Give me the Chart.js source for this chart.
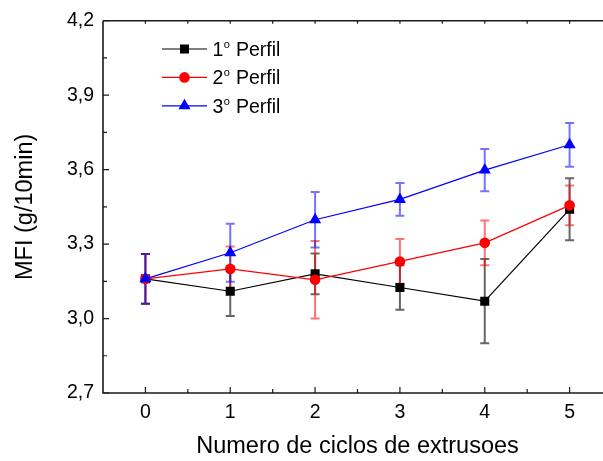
<!DOCTYPE html>
<html>
<head>
<meta charset="utf-8">
<script src="https://cdn.jsdelivr.net/npm/chart.js@4/dist/chart.umd.min.js"></script>
<style>
body { margin: 0; overflow: hidden; background: #fff; }
</style>
</head>
<body>
<canvas id="myChart_mfi" width="619" height="461"></canvas>
<script>
/* Data */
var ciclos = [0, 1, 2, 3, 4, 5];
var perfil1 = [3.16, 3.11, 3.18, 3.125, 3.07, 3.44];
var err1 = [0.10, 0.10, 0.082, 0.09, 0.17, 0.125];
var perfil2 = [3.16, 3.20, 3.156, 3.23, 3.305, 3.456];
var err2 = [0.10, 0.09, 0.156, 0.09, 0.09, 0.08];
var perfil3 = [3.16, 3.265, 3.398, 3.48, 3.598, 3.70];
var err3 = [0.10, 0.117, 0.112, 0.066, 0.085, 0.088];
var serieNames = ['1', '2', '3'];
var xTicks = [0, 1, 2, 3, 4, 5];
var yTicks = [2.7, 3.0, 3.3, 3.6, 3.9, 4.2];
/* End Data */

var fontFam = '"Liberation Sans", Arial, sans-serif';

function toPoints(vals) {
    var pts = [];
    for (let i = 0; i < ciclos.length; i++) {
        pts.push({x: ciclos[i], y: vals[i]});
    }
    return pts;
}

/* Error bars, axes box and legend drawn with the chart scales */
var originPlugin = {
    id: 'originPlugin',
    beforeDatasetsDraw: function(chart) {
        var ctx = chart.ctx;
        var xs = chart.scales.x;
        var ys = chart.scales.y;
        chart.data.datasets.forEach(function(ds) {
            ctx.save();
            ctx.strokeStyle = ds.errColor;
            ctx.lineWidth = 2;
            for (let i = 0; i < ds.data.length; i++) {
                var px = xs.getPixelForValue(ds.data[i].x);
                var top = ys.getPixelForValue(ds.data[i].y + ds.err[i]);
                var bot = ys.getPixelForValue(ds.data[i].y - ds.err[i]);
                ctx.beginPath();
                ctx.moveTo(px, top);
                ctx.lineTo(px, bot);
                ctx.moveTo(px - 4.5, top);
                ctx.lineTo(px + 4.5, top);
                ctx.moveTo(px - 4.5, bot);
                ctx.lineTo(px + 4.5, bot);
                ctx.stroke();
            }
            ctx.restore();
        });
    },
    afterDraw: function(chart) {
        var ctx = chart.ctx;
        var area = chart.chartArea;
        var xs = chart.scales.x;
        var ys = chart.scales.y;
        ctx.save();
        ctx.strokeStyle = '#1a1a1a';
        ctx.lineWidth = 1.6;
        ctx.beginPath();
        ctx.moveTo(area.left, area.top);
        ctx.lineTo(area.right + 5, area.top);
        ctx.moveTo(area.left, area.top);
        ctx.lineTo(area.left, area.bottom);
        ctx.lineTo(area.right + 5, area.bottom);
        ctx.stroke();
        ctx.lineWidth = 1.2;
        ctx.beginPath();
        /* y ticks inward */
        for (let i = 0; i < yTicks.length; i++) {
            var py = ys.getPixelForValue(yTicks[i]);
            ctx.moveTo(area.left, py);
            ctx.lineTo(area.left + 6, py);
            if (i < yTicks.length - 1) {
                var pm = ys.getPixelForValue((yTicks[i] + yTicks[i + 1]) / 2);
                ctx.moveTo(area.left, pm);
                ctx.lineTo(area.left + 4, pm);
            }
        }
        /* x ticks inward, bottom and top */
        for (let i = 0; i < xTicks.length; i++) {
            var px = xs.getPixelForValue(xTicks[i]);
            var pxm = xs.getPixelForValue(xTicks[i] + 0.5);
            ctx.moveTo(px, area.bottom);
            ctx.lineTo(px, area.bottom - 6);
            ctx.moveTo(pxm, area.bottom);
            ctx.lineTo(pxm, area.bottom - 4);
            ctx.moveTo(px, area.top);
            ctx.lineTo(px, area.top + 3);
            ctx.moveTo(pxm, area.top);
            ctx.lineTo(pxm, area.top + 3);
        }
        ctx.stroke();

        /* legend */
        var lx = 162;
        var ly = 49;
        chart.data.datasets.forEach(function(ds, i) {
            var y = ly + i * 28.4;
            ctx.strokeStyle = ds.borderColor;
            ctx.lineWidth = 1.2;
            ctx.beginPath();
            ctx.moveTo(lx, y);
            ctx.lineTo(lx + 45, y);
            ctx.stroke();
            ctx.fillStyle = ds.backgroundColor;
            Chart.helpers.drawPoint(ctx, {pointStyle: ds.pointStyle, radius: ds.pointRadius, borderWidth: 0}, lx + 22.5, y);
            ctx.fillStyle = '#000';
            ctx.textBaseline = 'alphabetic';
            ctx.textAlign = 'left';
            ctx.font = '19.5px ' + fontFam;
            ctx.fillText(serieNames[i], 212.5, y + 6.8);
            var w = ctx.measureText(serieNames[i]).width;
            ctx.font = '11px ' + fontFam;
            ctx.fillText('o', 212.5 + w + 0.5, y - 1);
            var w2 = ctx.measureText('o').width;
            ctx.font = '19.5px ' + fontFam;
            ctx.fillText(' Perfil', 212.5 + w + w2 + 1, y + 6.8);
        });
        ctx.restore();
    }
};

const data_mfi = {
    datasets: [
        {
            label: '1º Perfil',
            data: toPoints(perfil1),
            err: err1,
            borderColor: '#000000',
            backgroundColor: '#000000',
            errColor: 'rgba(0,0,0,0.6)',
            pointStyle: 'rect',
            pointRadius: 6.4,
            order: 3
        },
        {
            label: '2º Perfil',
            data: toPoints(perfil2),
            err: err2,
            borderColor: '#ff0000',
            backgroundColor: '#ff0000',
            errColor: 'rgba(255,0,0,0.55)',
            pointStyle: 'circle',
            pointRadius: 5.3,
            order: 2
        },
        {
            label: '3º Perfil',
            data: toPoints(perfil3),
            err: err3,
            borderColor: '#0000ff',
            backgroundColor: '#0000ff',
            errColor: 'rgba(0,0,255,0.55)',
            pointStyle: 'triangle',
            pointRadius: 7,
            order: 1
        }
    ]
};

const config_mfi = {
    type: 'line',
    data: data_mfi,
    options: {
        responsive: false,
        animation: false,
        elements: {
            line: { borderWidth: 1.2, tension: 0 },
            point: { borderWidth: 0, hoverRadius: 6 }
        },
        layout: { padding: { top: 19, left: 0, right: 0, bottom: 0 } },
        plugins: {
            legend: { display: false },
            tooltip: { enabled: false }
        },
        scales: {
            x: {
                type: 'linear',
                min: -0.5,
                max: 5.5,
                grid: { display: false, drawTicks: false },
                border: { display: false },
                afterBuildTicks: function(scale) {
                    scale.ticks = xTicks.map(function(v) { return {value: v}; });
                },
                afterFit: function(scale) { scale.height = 68; },
                ticks: {
                    color: '#000',
                    padding: 8,
                    maxRotation: 0,
                    font: { family: fontFam, size: 19.5 }
                },
                title: {
                    display: true,
                    text: 'Numero de ciclos de extrusoes',
                    color: '#000',
                    padding: { top: 0, bottom: 0 },
                    font: { family: fontFam, size: 23.5 }
                }
            },
            y: {
                min: 2.7,
                max: 4.2,
                grid: { display: false, drawTicks: false },
                border: { display: false },
                afterBuildTicks: function(scale) {
                    scale.ticks = yTicks.map(function(v) { return {value: v}; });
                },
                afterFit: function(scale) { scale.width = 103; },
                ticks: {
                    color: '#000',
                    padding: 9,
                    font: { family: fontFam, size: 19.5 },
                    callback: function(value) {
                        return value.toFixed(1).replace('.', ',');
                    }
                },
                title: {
                    display: true,
                    text: 'MFI (g/10min)',
                    color: '#000',
                    padding: { top: 11, bottom: 0 },
                    font: { family: fontFam, size: 23.5 }
                }
            }
        }
    },
    plugins: [originPlugin]
};

var myChart_mfi = new Chart(
    document.getElementById('myChart_mfi'),
    config_mfi
);
</script>
</body>
</html>
